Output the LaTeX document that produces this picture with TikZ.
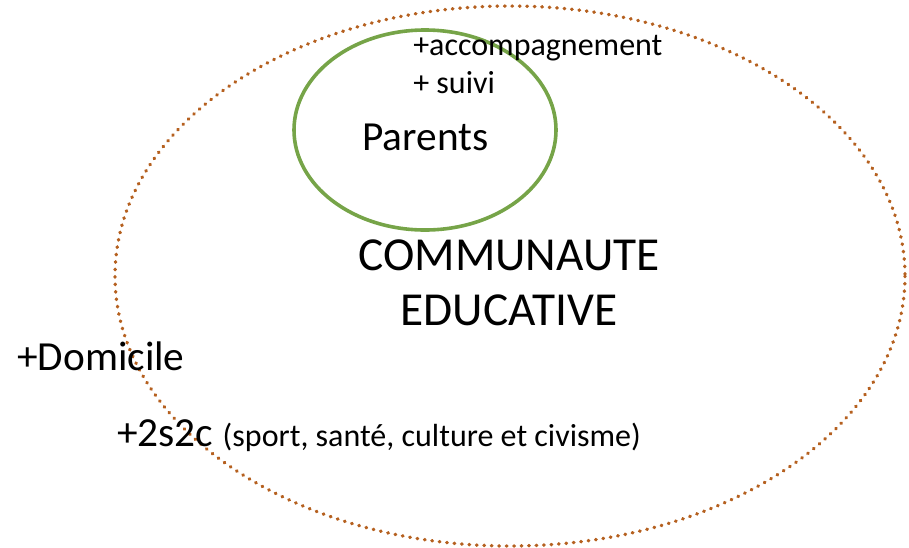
\documentclass[tikz,border=0pt]{standalone}
\usepackage{fontspec}
\setmainfont{Carlito}

\definecolor{dotbrown}{RGB}{181,96,31}
\definecolor{pgreen}{RGB}{118,164,72}

\begin{document}
\begin{tikzpicture}[
  x=0.75pt, y=-0.75pt,
  dotline/.style={draw=dotbrown, line width=2.6pt, line cap=round, dash pattern=on 0.4pt off 5.2pt},
  grnline/.style={draw=pgreen, line width=2.7pt},
  lbl/.style={anchor=base west, inner sep=0pt},
  big/.style={font=\fontsize{31}{36}\selectfont},
  mid/.style={font=\fontsize{24}{28}\selectfont}
]
\useasboundingbox (0,0) rectangle (909,547);

\draw [dotline] (510,276) ellipse [x radius=395, y radius=270];
\draw [grnline] (425,130) ellipse [x radius=131, y radius=100];

\node [lbl, mid] (accomp) at (413,55) {+accompagnement};
\node [lbl, mid] (suivi) at (413,93) {+ suivi};
\node [lbl, big] (parents) at (362,150) {Parents};

\node [anchor=base, inner sep=0pt, font=\fontsize{35.5}{41}\selectfont] (comm) at (509,270) {COMMUNAUTE};
\node [anchor=base, inner sep=0pt, font=\fontsize{35.5}{41}\selectfont] (educ) at (509,325) {EDUCATIVE};

\node [lbl, big] (domicile) at (17,370) {+Domicile};
\node [lbl, big] (twosc) at (117,446) {+2s2c {\fontsize{24}{28}\selectfont (sport, santé, culture et civisme)}};

\end{tikzpicture}
\end{document}
